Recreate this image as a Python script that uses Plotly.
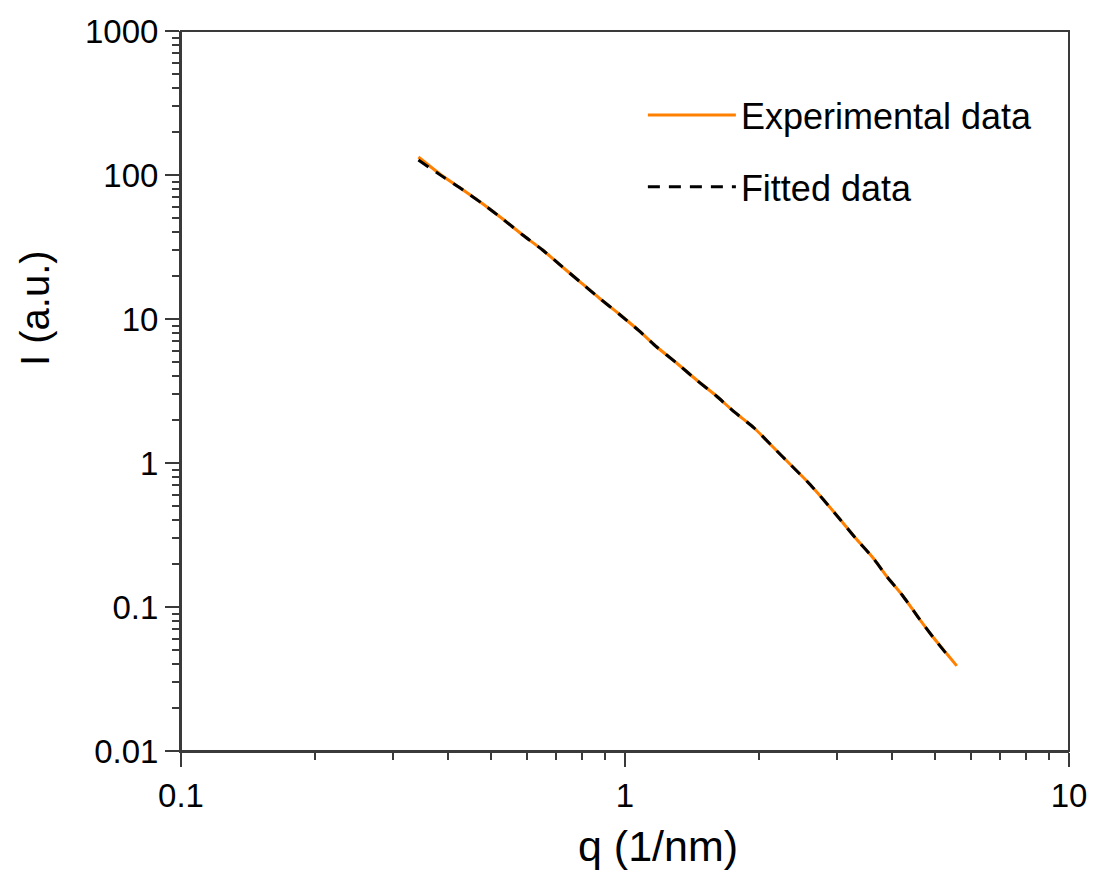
import plotly.graph_objects as go

q_exp = [0.3425, 0.3856, 0.4319, 0.4787, 0.5305, 0.5884, 0.6523, 0.7229, 0.7932, 0.8746,
         0.9696, 1.0748, 1.1791, 1.3071, 1.4492, 1.6065, 1.7625, 1.9538, 2.1544, 2.3638,
         2.5797, 2.8027, 3.0584, 3.3036, 3.6064, 3.8962, 4.2096, 4.5707, 4.9380, 5.3346, 5.5873]
I_exp = [133.4, 100.0, 78.66, 62.89, 49.48, 38.30, 30.15, 22.97, 18.06, 13.99,
         10.83, 8.30, 6.392, 4.948, 3.771, 2.919, 2.261, 1.750, 1.292, 0.9685,
         0.738, 0.5535, 0.4019, 0.3013, 0.2225, 0.1616, 0.1212, 0.0852, 0.0619, 0.0464, 0.0390]

# Fitted data
q_fit = [0.3425, 0.3856, 0.4319, 0.4787, 0.5305, 0.5884, 0.6523, 0.7229, 0.7932, 0.8746,
         0.9696, 1.0748, 1.1791, 1.3071, 1.4492, 1.6065, 1.7625, 1.9538, 2.1544, 2.3638,
         2.5797, 2.8027, 3.0584, 3.3036, 3.6064, 3.8962, 4.2096, 4.5707, 4.9380, 5.39]
I_fit = [127.0, 99.0, 78.66, 62.89, 49.48, 38.30, 30.15, 22.97, 18.06, 13.99,
         10.83, 8.30, 6.392, 4.948, 3.771, 2.919, 2.261, 1.750, 1.292, 0.9685,
         0.738, 0.5535, 0.4019, 0.3013, 0.2225, 0.1616, 0.1212, 0.0852, 0.0619, 0.0442]

x_tickvals = [0.1, 1, 10]
x_ticktext = ["0.1", "1", "10"]
y_tickvals = [0.01, 0.1, 1, 10, 100, 1000]
y_ticktext = ["0.01", "0.1", "1", "10", "100", "1000"]

FONT = "Liberation Sans, Arial, sans-serif"
AX = "#3a3a3a"

fig = go.Figure()
fig.add_trace(go.Scatter(x=q_exp, y=I_exp, mode="lines", name="Experimental data",
                         line=dict(color="#FF8000", width=3, shape="spline", smoothing=0.6),
                         legendgroup="a"))
fig.add_trace(go.Scatter(x=q_fit, y=I_fit, mode="lines", name="Fitted data",
                         line=dict(color="black", width=3, dash="12px,9px", shape="spline", smoothing=0.6),
                         legendgroup="b"))

axis_common = dict(
    type="log", showline=True, linecolor=AX, linewidth=2, mirror=False,
    ticks="outside", ticklen=14, tickwidth=2, tickcolor=AX,
    showgrid=False, zeroline=False,
    tickfont=dict(family=FONT, size=33, color="black"),
    minor=dict(ticks="outside", ticklen=7, tickwidth=2, tickcolor=AX, dtick="D1", showgrid=False),
)
fig.update_xaxes(range=[-1, 1], tickvals=x_tickvals, ticktext=x_ticktext, **axis_common)
fig.update_yaxes(range=[-2, 3], tickvals=y_tickvals, ticktext=y_ticktext, **axis_common)

# frame (top and right edges of the box)
fig.add_shape(type="rect", xref="paper", yref="paper", x0=0, y0=0, x1=1, y1=1,
              line=dict(color=AX, width=2), layer="above")

fig.add_annotation(text="q (1/nm)", xref="paper", yref="paper", x=(661 - 181) / 894,
                   y=-(846 - 751) / 720, showarrow=False, yanchor="middle",
                   font=dict(family=FONT, size=43, color="black"))
fig.add_annotation(text="I (a.u.)", xref="paper", yref="paper", x=-(181 - 34) / 894,
                   y=(751 - 308) / 720, showarrow=False, textangle=-90, xanchor="center",
                   yanchor="middle", font=dict(family=FONT, size=40, color="black"))

fig.update_layout(
    width=1099, height=872,
    margin=dict(l=181, r=24, t=31, b=121),
    plot_bgcolor="white", paper_bgcolor="white",
    showlegend=True,
    legend=dict(x=(646 - 181) / 894, y=(751 - 85) / 720, xanchor="left", yanchor="top",
                font=dict(family=FONT, size=36, color="black"),
                bgcolor="rgba(0,0,0,0)", traceorder="grouped", tracegroupgap=22,
                itemwidth=88),
)

fig.write_html("out.html")
